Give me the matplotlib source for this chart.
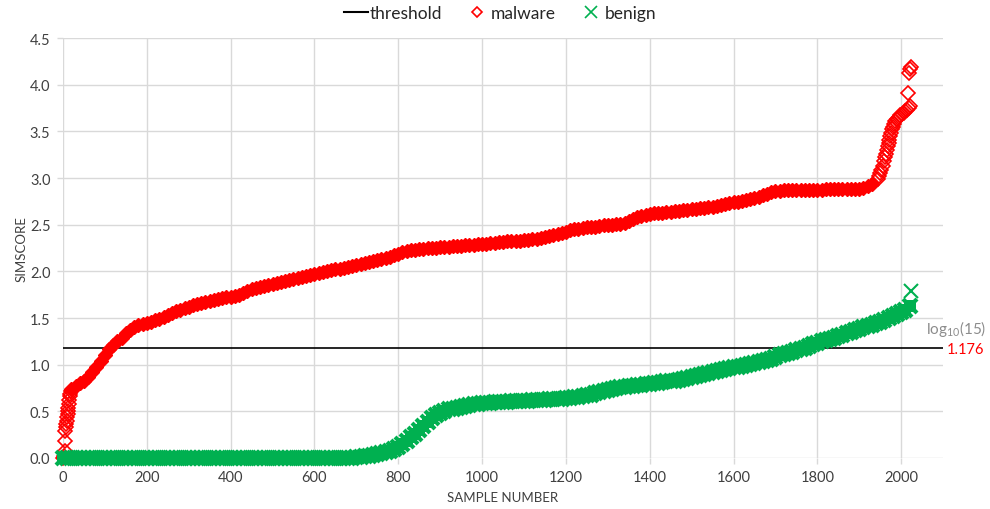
# plot.py - sorted similarity scores of malware and benign samples

import matplotlib.pyplot as plt
from matplotlib.lines import Line2D

plt.rcParams["font.family"] = ["Lato", "DejaVu Sans"]

THRESHOLD = 1.176

# Malware: first few samples (sparse, steep rise)
malware_head_x = [1, 2, 4, 5, 6, 7, 8, 9, 10, 11, 12, 13, 14, 15, 16, 17, 18]
malware_head_y = [0.00, 0.02, 0.08, 0.18, 0.29, 0.33, 0.36, 0.40, 0.44,
                  0.47, 0.50, 0.54, 0.58, 0.62, 0.66, 0.69, 0.72]

# Malware: main body, one reading every 10 samples starting at sample 20
malware_body_start = 20
malware_body_y = [
    0.74, 0.77, 0.80, 0.83, 0.87, 0.92, 0.98, 1.04, 1.10, 1.17,
    1.21, 1.25, 1.29, 1.34, 1.37, 1.40, 1.42, 1.44, 1.45, 1.46,
    1.48, 1.49, 1.51, 1.53, 1.55, 1.57, 1.59, 1.61, 1.62, 1.64,
    1.65, 1.66, 1.67, 1.68, 1.69, 1.70, 1.71, 1.72, 1.73, 1.74,
    1.75, 1.77, 1.79, 1.81, 1.82, 1.83, 1.84, 1.85, 1.86, 1.88,
    1.89, 1.90, 1.91, 1.92, 1.93, 1.94, 1.95, 1.96, 1.97, 1.98,
    1.99, 2.00, 2.01, 2.02, 2.03, 2.04, 2.05, 2.06, 2.07, 2.08,
    2.09, 2.10, 2.11, 2.12, 2.13, 2.14, 2.15, 2.17, 2.19, 2.21,
    2.22, 2.23, 2.23, 2.24, 2.24, 2.25, 2.25, 2.25, 2.26, 2.26,
    2.26, 2.27, 2.27, 2.27, 2.28, 2.28, 2.28, 2.29, 2.29, 2.29,
    2.30, 2.30, 2.31, 2.31, 2.32, 2.32, 2.33, 2.33, 2.34, 2.34,
    2.35, 2.35, 2.36, 2.37, 2.38, 2.39, 2.40, 2.41, 2.42, 2.44,
    2.45, 2.45, 2.46, 2.47, 2.48, 2.48, 2.49, 2.50, 2.50, 2.50,
    2.51, 2.51, 2.52, 2.54, 2.56, 2.58, 2.59, 2.60, 2.61, 2.62,
    2.63, 2.63, 2.64, 2.64, 2.65, 2.65, 2.66, 2.66, 2.67, 2.67,
    2.68, 2.68, 2.69, 2.69, 2.70, 2.71, 2.72, 2.73, 2.74, 2.74,
    2.75, 2.76, 2.77, 2.79, 2.80, 2.82, 2.83, 2.85, 2.86, 2.86,
    2.87, 2.87, 2.87, 2.87, 2.87, 2.87, 2.87, 2.87, 2.87, 2.87,
    2.88, 2.88, 2.88, 2.88, 2.88, 2.88, 2.88, 2.88, 2.88, 2.89,
    2.91, 2.94,
]

# Malware: last samples (steep climb and outliers)
malware_tail_x = [1944, 1947, 1950, 1953, 1956, 1959, 1962, 1964, 1966, 1968,
                  1970, 1972, 1974, 1976, 1978, 1980, 1983, 1986, 1990, 1994,
                  1998, 2002, 2006, 2010, 2014, 2018, 2020, 2017, 2018, 2022, 2024]
malware_tail_y = [2.99, 3.02, 3.05, 3.09, 3.13, 3.18, 3.22, 3.26, 3.30, 3.34,
                  3.38, 3.41, 3.45, 3.48, 3.52, 3.55, 3.58, 3.61, 3.63, 3.65,
                  3.67, 3.69, 3.70, 3.72, 3.73, 3.75, 3.77, 3.91, 4.13, 4.17, 4.19]

# Benign: one reading every 10 samples starting at sample 0
benign_start = 0
benign_y = [
    0.00, 0.00, 0.00, 0.00, 0.00, 0.00, 0.00, 0.00, 0.00, 0.00,
    0.00, 0.00, 0.00, 0.00, 0.00, 0.00, 0.00, 0.00, 0.00, 0.00,
    0.00, 0.00, 0.00, 0.00, 0.00, 0.00, 0.00, 0.00, 0.00, 0.00,
    0.00, 0.00, 0.00, 0.00, 0.00, 0.00, 0.00, 0.00, 0.00, 0.00,
    0.00, 0.00, 0.00, 0.00, 0.00, 0.00, 0.00, 0.00, 0.00, 0.00,
    0.00, 0.00, 0.00, 0.00, 0.00, 0.00, 0.00, 0.00, 0.00, 0.00,
    0.00, 0.00, 0.00, 0.00, 0.00, 0.00, 0.00, 0.00, 0.00, 0.00,
    0.01, 0.01, 0.02, 0.02, 0.03, 0.04, 0.05, 0.06, 0.08, 0.10,
    0.12, 0.15, 0.18, 0.22, 0.26, 0.30, 0.34, 0.39, 0.43, 0.46,
    0.48, 0.50, 0.52, 0.53, 0.54, 0.55, 0.56, 0.57, 0.58, 0.58,
    0.59, 0.59, 0.59, 0.60, 0.60, 0.60, 0.60, 0.61, 0.61, 0.61,
    0.61, 0.61, 0.62, 0.62, 0.62, 0.62, 0.63, 0.63, 0.63, 0.63,
    0.64, 0.64, 0.65, 0.65, 0.66, 0.67, 0.68, 0.70, 0.71, 0.72,
    0.73, 0.74, 0.75, 0.76, 0.76, 0.77, 0.77, 0.78, 0.78, 0.79,
    0.79, 0.80, 0.80, 0.81, 0.82, 0.82, 0.83, 0.84, 0.85, 0.86,
    0.87, 0.88, 0.89, 0.90, 0.91, 0.92, 0.93, 0.94, 0.95, 0.96,
    0.97, 0.98, 0.99, 1.00, 1.01, 1.02, 1.03, 1.04, 1.05, 1.06,
    1.08, 1.10, 1.11, 1.13, 1.14, 1.16, 1.17, 1.18, 1.20, 1.22,
    1.23, 1.25, 1.26, 1.28, 1.29, 1.31, 1.32, 1.34, 1.35, 1.37,
    1.38, 1.40, 1.41, 1.43, 1.45, 1.46, 1.48, 1.50, 1.52, 1.54,
    1.56, 1.59, 1.63,
]
benign_outlier_x = [2024]
benign_outlier_y = [1.79]

RED = "#ff0000"
GREEN = "#00b050"
GRID = "#d9d9d9"
TEXT = "#404040"

step = 10
malware_body_x = [malware_body_start + i * step for i in range(len(malware_body_y))]
benign_x = [benign_start + i * step for i in range(len(benign_y))]

fig = plt.figure(figsize=(9.9, 5.1), dpi=100)
ax = fig.add_axes([0.0636, 0.1, 0.889, 0.8235])

# threshold line sits under the markers
ax.axhline(THRESHOLD, color="black", linewidth=1.2, zorder=2)

# malware (dense part drawn filled so it looks solid like the original)
ax.plot(malware_body_x, malware_body_y, linestyle="none", marker="D",
        markersize=7.4, color=RED, markeredgewidth=1, clip_on=False, zorder=3)
ax.plot(malware_head_x, malware_head_y, linestyle="none", marker="D",
        markersize=7, markerfacecolor="none", markeredgecolor=RED,
        markeredgewidth=1.2, clip_on=False, zorder=3)
ax.plot(malware_tail_x, malware_tail_y, linestyle="none", marker="D",
        markersize=7, markerfacecolor="none", markeredgecolor=RED,
        markeredgewidth=1.2, clip_on=False, zorder=3)

# benign: a filled square layer underneath closes the gaps between the crosses
ax.plot(benign_x, benign_y, linestyle="none", marker="s", markersize=9,
        color=GREEN, markeredgewidth=0, clip_on=False, zorder=4)
ax.plot(benign_x, benign_y, linestyle="none", marker="x", markersize=10,
        color=GREEN, markeredgewidth=3, clip_on=False, zorder=4)
ax.plot(benign_outlier_x, benign_outlier_y, linestyle="none", marker="x",
        markersize=10, color=GREEN, markeredgewidth=1.5, clip_on=False, zorder=4)

ax.set_xlim(0, 2100)
ax.set_ylim(0, 4.5)
ax.set_xticks(range(0, 2001, 200))
ax.set_yticks([i * 0.5 for i in range(10)])
ax.set_yticklabels([f"{i * 0.5:.1f}" for i in range(10)])

ax.grid(True, color=GRID, linewidth=1)
ax.set_axisbelow(True)
for side in ["top", "right", "left", "bottom"]:
    ax.spines[side].set_visible(False)
ax.tick_params(axis="both", length=4, width=1, color=GRID, labelsize=10.5,
               labelcolor=TEXT, pad=5)

ax.set_xlabel("SAMPLE NUMBER", fontsize=9.5, color=TEXT, labelpad=5)
ax.set_ylabel("SIMSCORE", fontsize=9.5, color=TEXT, labelpad=2)

# threshold annotation at the right
fig.text(0.996, 1 - 329 / 510, r"log$_{\mathregular{10}}$(15)", ha="right",
         va="center", fontsize=11, color="#8c8c8c")
fig.text(0.994, 1 - 350 / 510, "1.176", ha="right", va="center",
         fontsize=10.5, color=RED)

# legend at the top
handles = [
    Line2D([], [], color="black", linewidth=1.5),
    Line2D([], [], linestyle="none", marker="D", markersize=5.5,
           markerfacecolor="none", markeredgecolor=RED, markeredgewidth=1.2),
    Line2D([], [], linestyle="none", marker="x", markersize=8,
           color=GREEN, markeredgewidth=1.2),
]
fig.legend(handles, ["threshold", "malware", "benign"], loc="center",
           bbox_to_anchor=(0.505, 1 - 14 / 510), ncol=3, frameon=False,
           fontsize=12.5, handlelength=1.4, handletextpad=0.1, columnspacing=1.3,
           labelcolor="#262626")

plt.savefig("out.png", dpi=100)
plt.close()
